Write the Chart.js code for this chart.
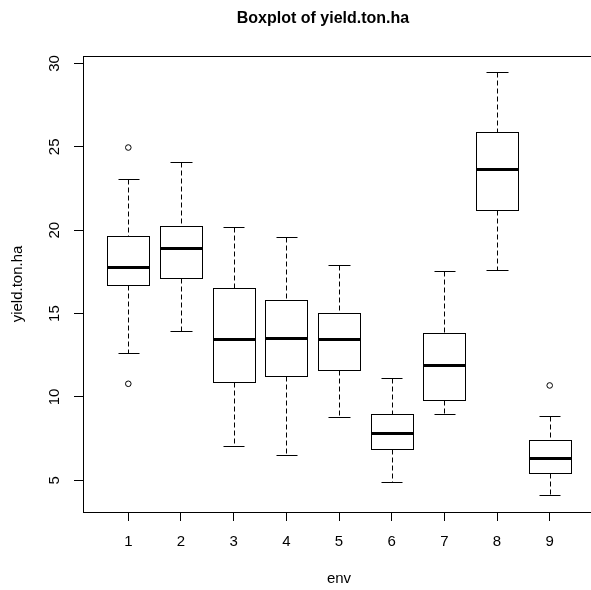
<!DOCTYPE html>
<html lang="en">
<head>
  <meta charset="UTF-8">
  <title>Boxplot of yield.ton.ha</title>
  <script src="https://cdn.jsdelivr.net/npm/chart.js"></script>
  <style>
    html, body {
      margin: 0;
      padding: 0;
      background: #fff;
      overflow: hidden;
    }
    canvas {
      display: block;
    }
  </style>
</head>
<body>
  <canvas id="boxChart" width="600" height="590"></canvas>

  <script>
    // Box statistics per environment
    const envs = ["1", "2", "3", "4", "5", "6", "7", "8", "9"];
    const lowerWhisker = [12.62, 13.98, 7.04, 6.50, 8.77, 4.92, 8.99, 17.63, 4.12];
    const q1 = [16.74, 17.11, 10.89, 11.23, 11.60, 6.86, 9.79, 21.21, 5.46];
    const median = [17.81, 18.93, 13.50, 13.56, 13.49, 7.81, 11.90, 23.66, 6.32];
    const q3 = [19.63, 20.27, 16.56, 15.84, 15.06, 8.99, 13.82, 25.88, 7.44];
    const upperWhisker = [23.10, 24.12, 20.21, 19.57, 17.92, 11.13, 17.57, 29.47, 8.83];

    // Outliers (env index, value)
    const outlierEnv = ["1", "1", "9"];
    const outlierValue = [24.96, 10.79, 10.69];

    // Axis ticks
    const yTicks = [5, 10, 15, 20, 25, 30];

    const fontFamily = '"Liberation Sans", Arial, sans-serif';
    const boxHalf = 0.4;    // half box width, in x units
    const stapleHalf = 0.2; // half whisker cap width

    const outlierPoints = outlierEnv.map((e, i) => ({ x: envs.indexOf(e) + 1, y: outlierValue[i] }));

    function strokeLine(ctx, x1, y1, x2, y2) {
      ctx.beginPath();
      ctx.moveTo(x1, y1);
      ctx.lineTo(x2, y2);
      ctx.stroke();
    }

    // draws boxes, whiskers, medians, frame and the main title
    const boxplotPlugin = {
      id: "boxplot",
      afterDatasetsDraw(chart) {
        const ctx = chart.ctx;
        const xs = chart.scales.x;
        const ys = chart.scales.y;
        const px = v => Math.round(xs.getPixelForValue(v)) + 0.5;
        const py = v => Math.round(ys.getPixelForValue(v)) + 0.5;

        ctx.save();
        ctx.strokeStyle = "#000";
        envs.forEach((e, i) => {
          const x = i + 1;
          ctx.lineWidth = 1;

          // dashed whiskers
          ctx.setLineDash([5, 3]);
          strokeLine(ctx, px(x), py(upperWhisker[i]), px(x), py(q3[i]));
          strokeLine(ctx, px(x), py(q1[i]), px(x), py(lowerWhisker[i]));
          ctx.setLineDash([]);

          // staples
          strokeLine(ctx, px(x - stapleHalf), py(upperWhisker[i]), px(x + stapleHalf), py(upperWhisker[i]));
          strokeLine(ctx, px(x - stapleHalf), py(lowerWhisker[i]), px(x + stapleHalf), py(lowerWhisker[i]));

          // box
          const left = px(x - boxHalf);
          const right = px(x + boxHalf);
          const top = py(q3[i]);
          const bottom = py(q1[i]);
          ctx.fillStyle = "#fff";
          ctx.fillRect(left, top, right - left, bottom - top);
          ctx.strokeRect(left, top, right - left, bottom - top);

          // median
          ctx.lineWidth = 3;
          strokeLine(ctx, left, py(median[i]), right, py(median[i]));
        });

        // plot frame
        const a = chart.chartArea;
        ctx.lineWidth = 1;
        ctx.strokeRect(Math.round(a.left) + 0.5, Math.round(a.top) + 0.5,
          Math.round(a.right - a.left), Math.round(a.bottom - a.top));
        ctx.restore();
      },
      afterDraw(chart) {
        const ctx = chart.ctx;
        ctx.save();
        ctx.fillStyle = "#000";
        ctx.font = "bold 16px " + fontFamily;
        ctx.textAlign = "center";
        ctx.textBaseline = "middle";
        ctx.fillText("Boxplot of yield.ton.ha", 323, 18.5);
        ctx.restore();
      }
    };

    new Chart(document.getElementById("boxChart"), {
      type: "scatter",
      data: {
        datasets: [{
          label: "outliers",
          data: outlierPoints,
          pointRadius: 2.8,
          pointHoverRadius: 2.8,
          pointBorderWidth: 1,
          borderColor: "#000",
          backgroundColor: "#fff"
        }]
      },
      options: {
        responsive: false,
        animation: false,
        events: [],
        layout: {
          padding: { top: 56, right: 5, bottom: 0, left: 0 }
        },
        plugins: {
          legend: { display: false },
          tooltip: { enabled: false },
          title: { display: false }
        },
        scales: {
          x: {
            type: "linear",
            min: 0.14,
            max: 9.86,
            afterBuildTicks: s => { s.ticks = envs.map((e, i) => ({ value: i + 1 })); },
            afterFit: s => { s.height = 78; },
            ticks: {
              callback: v => envs[Math.round(v) - 1],
              color: "#000",
              font: { size: 15, family: fontFamily },
              padding: 12,
              autoSkip: false,
              maxRotation: 0
            },
            grid: {
              drawOnChartArea: false,
              drawTicks: true,
              tickLength: 9,
              color: "#000",
              tickColor: "#000"
            },
            border: { display: true, color: "#000" },
            title: {
              display: true,
              text: "env",
              color: "#000",
              font: { size: 15, family: fontFamily },
              padding: { top: 0, bottom: 2 }
            }
          },
          y: {
            type: "linear",
            min: 3.1,
            max: 30.45,
            afterBuildTicks: s => { s.ticks = yTicks.map(v => ({ value: v })); },
            afterFit: s => { s.width = 83; },
            ticks: {
              color: "#000",
              font: { size: 15, family: fontFamily },
              minRotation: 90,
              maxRotation: 90,
              crossAlign: "center",
              padding: 11,
              autoSkip: false
            },
            grid: {
              drawOnChartArea: false,
              drawTicks: true,
              tickLength: 9,
              color: "#000",
              tickColor: "#000"
            },
            border: { display: true, color: "#000" },
            title: {
              display: true,
              text: "yield.ton.ha",
              color: "#000",
              font: { size: 15, family: fontFamily },
              padding: { top: 9, bottom: 0 }
            }
          }
        }
      },
      plugins: [boxplotPlugin]
    });
  </script>
</body>
</html>
